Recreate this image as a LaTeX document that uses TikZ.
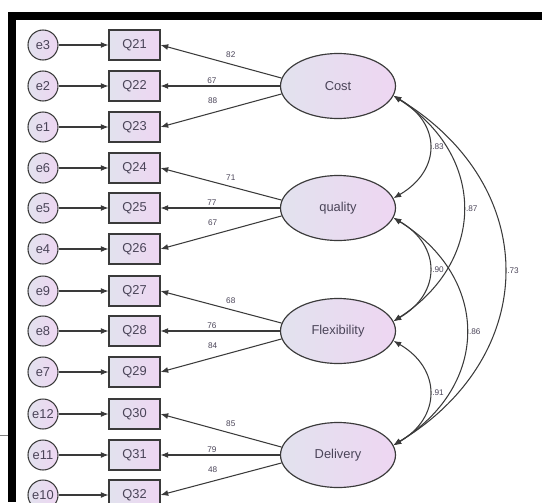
\documentclass[tikz,border=0pt]{standalone}
\usepackage{fontspec}
\setmainfont{Liberation Sans}
\usetikzlibrary{shapes, arrows.meta, positioning}
\definecolor{fillL}{HTML}{E2E2EE}
\definecolor{fillR}{HTML}{EED6F2}
\definecolor{inkgray}{HTML}{3A3A3A}
\definecolor{txtgray}{HTML}{4A4458}

\begin{document}
\begin{tikzpicture}[
    % GLOBAL CFG
    x=0.03cm, y=-0.03cm,
    font=\fontsize{11}{13}\selectfont,
    >={Latex[length=2.3mm,width=1.8mm]},
    % Styles
    err/.style={% For the error terms
        circle,
        draw=inkgray,
        line width=0.9pt,
        left color=fillL, right color=fillR,
        minimum size=0.9cm,
        inner sep=0pt,
        text=txtgray,
        },
    item/.style={% For the observed items
        rectangle,
        draw=inkgray,
        line width=0.9pt,
        left color=fillL, right color=fillR,
        minimum width=1.53cm,
        minimum height=0.9cm,
        inner sep=0pt,
        text=txtgray,
        },
    factor/.style={% For the latent factors
        ellipse,
        draw=inkgray,
        line width=1pt,
        left color=fillL, right color=fillR,
        minimum width=3.45cm,
        minimum height=1.95cm,
        inner sep=0pt,
        text=txtgray,
        },
    est/.style={% For the estimates
        font=\fontsize{7}{8}\selectfont,
        text=txtgray,
        inner sep=2pt,
        },
    Path/.style={% Single headed arrows
        ->,
        line width=0.9pt,
        draw=inkgray,
        },
    Cov/.style={% Double headed arcs
        <->,
        line width=0.9pt,
        draw=inkgray,
        }
    ]

    \useasboundingbox (0,0) rectangle (542,502);

    % Frame
    \fill[black] (8,12) rectangle (542,20);
    \fill[black] (8,12) rectangle (16,502);
    \draw[gray, line width=0.8pt] (0,435) -- (8,435);

    % Draw error terms named e#
    \node [err] (e3) at (43,45) {e3};
    \node [err] (e2) at (43,86) {e2};
    \node [err] (e1) at (43,127) {e1};
    \node [err] (e6) at (43,168) {e6};
    \node [err] (e5) at (43,208) {e5};
    \node [err] (e4) at (43,249) {e4};
    \node [err] (e9) at (43,291) {e9};
    \node [err] (e8) at (43,331) {e8};
    \node [err] (e7) at (43,372) {e7};
    \node [err] (e12) at (43,414) {e12};
    \node [err] (e11) at (43,455) {e11};
    \node [err] (e10) at (43,495) {e10};

    % Draw items named q#
    \node [item] (q21) at (134.5,45) {Q21};
    \node [item] (q22) at (134.5,86) {Q22};
    \node [item] (q23) at (134.5,127) {Q23};
    \node [item] (q24) at (134.5,168) {Q24};
    \node [item] (q25) at (134.5,208) {Q25};
    \node [item] (q26) at (134.5,249) {Q26};
    \node [item] (q27) at (134.5,291) {Q27};
    \node [item] (q28) at (134.5,331) {Q28};
    \node [item] (q29) at (134.5,372) {Q29};
    \node [item] (q30) at (134.5,414) {Q30};
    \node [item] (q31) at (134.5,455) {Q31};
    \node [item] (q32) at (134.5,495) {Q32};

    % Draw factors
    \node [factor] (cost) at (338,86) {Cost};
    \node [factor] (quality) at (338,208) {quality};
    \node [factor] (flex) at (338,331) {Flexibility};
    \node [factor] (delivery) at (338,455) {Delivery};

% Start connecting all.
    % Errors to items
    \draw [Path] (e3) -- (q21);
    \draw [Path] (e2) -- (q22);
    \draw [Path] (e1) -- (q23);
    \draw [Path] (e6) -- (q24);
    \draw [Path] (e5) -- (q25);
    \draw [Path] (e4) -- (q26);
    \draw [Path] (e9) -- (q27);
    \draw [Path] (e8) -- (q28);
    \draw [Path] (e7) -- (q29);
    \draw [Path] (e12) -- (q30);
    \draw [Path] (e11) -- (q31);
    \draw [Path] (e10) -- (q32);

    % Loadings
    \draw [Path] (cost.172) -- node[est, pos=0.42, above=3pt] {82} (q21.east);
    \draw [Path] (cost.west) -- node[est, pos=0.57, above] {67} (q22.east);
    \draw [Path] (cost.188) -- node[est, pos=0.57, above=5pt] {88} (q23.east);
    \draw [Path] (quality.172) -- node[est, pos=0.42, above=3pt] {71} (q24.east);
    \draw [Path] (quality.west) -- node[est, pos=0.57, above] {77} (q25.east);
    \draw [Path] (quality.188) -- node[est, pos=0.57, above=5pt] {67} (q26.east);
    \draw [Path] (flex.172) -- node[est, pos=0.42, above=3pt] {68} (q27.east);
    \draw [Path] (flex.west) -- node[est, pos=0.57, above] {76} (q28.east);
    \draw [Path] (flex.188) -- node[est, pos=0.57, above=5pt] {84} (q29.east);
    \draw [Path] (delivery.172) -- node[est, pos=0.42, above=3pt] {85} (q30.east);
    \draw [Path] (delivery.west) -- node[est, pos=0.57, above] {79} (q31.east);
    \draw [Path] (delivery.188) -- node[est, pos=0.57, above=5pt] {48} (q32.east);

    % Covariances
    \draw [Cov] (cost.-10) .. controls +(48,28) and +(48,-28) .. node[est, right] {.83} (quality.10);
    \draw [Cov] (cost.-10) .. controls +(93,60) and +(93,-60) .. node[est, right] {.87} (flex.10);
    \draw [Cov] (cost.-10) .. controls +(148,90) and +(148,-90) .. node[est, right] {.73} (delivery.10);
    \draw [Cov] (quality.-10) .. controls +(48,28) and +(48,-28) .. node[est, right] {.90} (flex.10);
    \draw [Cov] (quality.-10) .. controls +(97,60) and +(97,-60) .. node[est, right] {.86} (delivery.10);
    \draw [Cov] (flex.-10) .. controls +(48,28) and +(48,-28) .. node[est, right] {.91} (delivery.10);

\end{tikzpicture}
\end{document}
